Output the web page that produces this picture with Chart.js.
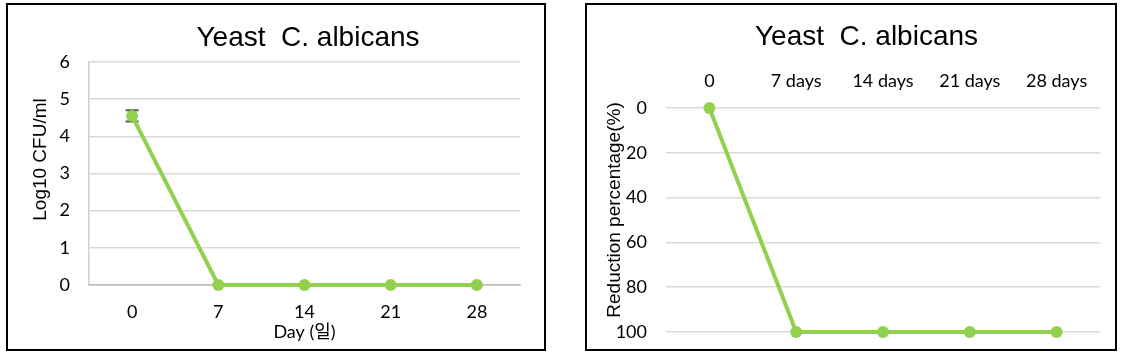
<!DOCTYPE html>
<html>
<head>
<meta charset="utf-8">
<script src="https://cdn.jsdelivr.net/npm/chart.js"></script>
<style>
body { margin: 0; background: #fff; width: 1126px; height: 359px; position: relative; overflow: hidden; }
.box { position: absolute; top: 3px; height: 344px; border: 2px solid #000; background: #fff; }
#boxLeft { left: 6px; width: 536px; }
#boxRight { left: 585px; width: 528px; }
canvas { display: block; }
</style>
</head>
<body>
<div class="box" id="boxLeft"><canvas id="leftChart" width="536" height="344"></canvas></div>
<div class="box" id="boxRight"><canvas id="rightChart" width="528" height="344"></canvas></div>
<script>
// Data
const chartTitle = "Yeast  C. albicans";
const dayLabels = ["0", "7", "14", "21", "28"];
const logCfu = [4.55, 0, 0, 0, 0];
const logCfuErr = [0.15, 0, 0, 0, 0];
const reductionLabels = ["0", "7 days", "14 days", "21 days", "28 days"];
const reductionPct = [0, 100, 100, 100, 100];
const leftYTitle = "Log10 CFU/ml";
const leftXTitle = "Day (일)";
const rightYTitle = "Reduction percentage(%)";

// Styles
const green = "#92d050";
const tickFont = { family: "Lato, 'Noto Sans CJK KR', sans-serif", size: 18 };
const arialFamily = "'Liberation Sans', Arial, sans-serif";

Chart.defaults.color = "#000";
Chart.defaults.animation = false;

// Error bars, drawn under the line from the err array
const errorBars = {
    id: "errorBars",
    beforeDatasetsDraw(chart, args, opts) {
        const err = opts.values;
        if (!err) return;
        const ctx = chart.ctx;
        const meta = chart.getDatasetMeta(0);
        const yScale = chart.scales.y;
        const data = chart.data.datasets[0].data;
        ctx.save();
        ctx.strokeStyle = "#595959";
        ctx.lineWidth = 2;
        meta.data.forEach((pt, i) => {
            if (!err[i]) return;
            const top = yScale.getPixelForValue(data[i] + err[i]);
            const bot = yScale.getPixelForValue(data[i] - err[i]);
            ctx.beginPath();
            ctx.moveTo(pt.x, top);
            ctx.lineTo(pt.x, bot);
            ctx.moveTo(pt.x - 6.5, top);
            ctx.lineTo(pt.x + 6.5, top);
            ctx.moveTo(pt.x - 6.5, bot);
            ctx.lineTo(pt.x + 6.5, bot);
            ctx.stroke();
        });
        ctx.restore();
    }
};

// Chart title and y axis title, placed against the plot area like Excel does
const boxTexts = {
    id: "boxTexts",
    afterDraw(chart, args, opts) {
        const { ctx, chartArea } = chart;
        const midX = (chartArea.left + chartArea.right) / 2;
        const midY = (chartArea.top + chartArea.bottom) / 2;
        ctx.save();
        ctx.fillStyle = "#000";
        ctx.textAlign = "center";
        ctx.textBaseline = "alphabetic";
        ctx.font = "28px " + arialFamily;
        ctx.fillText(chartTitle, midX + opts.titleShift, opts.titleBaseline);

        ctx.font = "19px " + arialFamily;
        ctx.textBaseline = "middle";
        ctx.translate(opts.yTitleX, midY + opts.yTitleShift);
        ctx.rotate(-Math.PI / 2);
        ctx.fillText(opts.yTitle, 0, 0);
        ctx.restore();
    }
};

function lineDataset(values) {
    return {
        data: values,
        borderColor: green,
        backgroundColor: green,
        borderWidth: 4,
        pointRadius: 6,
        pointBorderWidth: 0,
        pointBackgroundColor: green,
        tension: 0,
        clip: false
    };
}

function noEdgePadding(s) {
    s.paddingTop = 0;
    s.paddingBottom = 0;
    s.paddingLeft = 0;
    s.paddingRight = 0;
}

// Left chart: Log10 CFU/ml
new Chart(document.getElementById("leftChart"), {
    type: "line",
    data: { labels: dayLabels, datasets: [lineDataset(logCfu)] },
    plugins: [errorBars, boxTexts],
    options: {
        responsive: false,
        devicePixelRatio: 1,
        layout: { padding: { left: 0, right: 24, top: 57, bottom: 0 } },
        plugins: {
            legend: { display: false },
            tooltip: { enabled: false },
            title: { display: false },
            errorBars: { values: logCfuErr },
            boxTexts: { titleShift: 3.5, titleBaseline: 41, yTitle: leftYTitle, yTitleX: 33, yTitleShift: -14 }
        },
        scales: {
            x: {
                offset: true,
                grid: { display: false, drawTicks: false },
                border: { display: true, color: "#bfbfbf", width: 1.5 },
                ticks: { font: tickFont, padding: 16 },
                title: { display: true, text: leftXTitle, font: tickFont, padding: { top: 0, bottom: 6 } },
                afterFit(s) { s.height = 64; noEdgePadding(s); }
            },
            y: {
                min: 0,
                max: 6,
                ticks: { stepSize: 1, font: tickFont, padding: 19 },
                grid: {
                    drawTicks: false,
                    lineWidth: 1.5,
                    color: (c) => (c.tick && c.tick.value === 0 ? "#bfbfbf" : "#d9d9d9")
                },
                border: { display: true, color: "#d0d0d0", width: 1.5 },
                afterFit(s) { s.width = 81; noEdgePadding(s); }
            }
        }
    }
});

// Right chart: reduction percentage
new Chart(document.getElementById("rightChart"), {
    type: "line",
    data: { labels: reductionLabels, datasets: [lineDataset(reductionPct)] },
    plugins: [boxTexts],
    options: {
        responsive: false,
        devicePixelRatio: 1,
        layout: { padding: { left: 0, right: 15, top: 57, bottom: 17 } },
        plugins: {
            legend: { display: false },
            tooltip: { enabled: false },
            title: { display: false },
            boxTexts: { titleShift: -16.5, titleBaseline: 40, yTitle: rightYTitle, yTitleX: 28, yTitleShift: -10 }
        },
        scales: {
            x: {
                position: "top",
                offset: true,
                grid: { display: false, drawTicks: false },
                border: { display: false },
                ticks: { font: tickFont, padding: 16 },
                afterFit(s) { s.height = 46; noEdgePadding(s); }
            },
            y: {
                reverse: true,
                min: 0,
                max: 100,
                ticks: { stepSize: 20, font: tickFont, padding: 19 },
                grid: { drawTicks: false, lineWidth: 1.5, color: "#d9d9d9" },
                border: { display: false },
                afterFit(s) { s.width = 79; noEdgePadding(s); }
            }
        }
    }
});
</script>
</body>
</html>
